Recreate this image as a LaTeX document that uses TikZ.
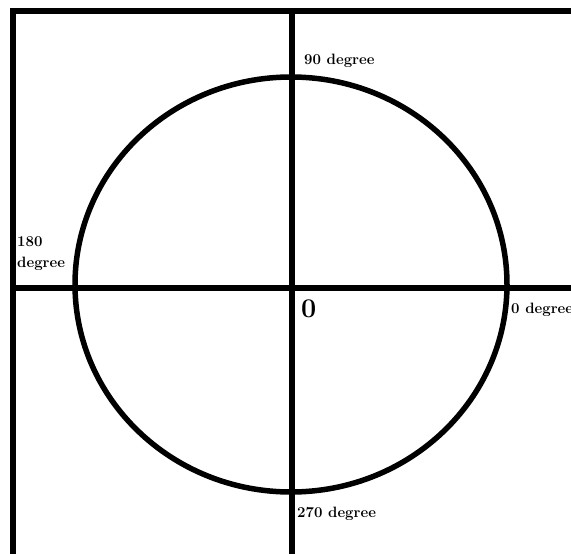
\documentclass[tikz,border=0pt]{standalone}
\usepackage{tikz}

\begin{document}
\begin{tikzpicture}[
    x=1pt, y=-1pt,
    thick line/.style={line width=5.5pt},
    lbl/.style={font=\fontsize{15}{21}\selectfont\bfseries, inner sep=0pt},
    origin lbl/.style={font=\fontsize{27}{30}\selectfont\bfseries, inner sep=0pt},
]
    \useasboundingbox (0, 0) rectangle (571, 554);

    %% outer frame (only left and top edges visible)
    \draw[thick line, line join=miter] (13, 554) -- (13, 11) -- (571, 11);

    %% axes
    \coordinate (top) at (292, 11);
    \coordinate (bottom) at (292, 554);
    \coordinate (left) at (13, 288);
    \coordinate (right) at (571, 288);
    \draw[thick line] (top) -- (bottom);
    \draw[thick line] (left) -- (right);

    %% the circle
    \coordinate (centre) at (291, 284.5);
    \draw[thick line] (centre) ellipse [x radius=216, y radius=207.5];

    %% labels
    \node[lbl, anchor=west] (deg90) at (304, 61) {90 degree};
    \node[lbl, anchor=west, align=left] (deg180) at (17, 254) {180\\degree};
    \node[lbl, anchor=west] (deg0) at (511, 310) {0 degree};
    \node[lbl, anchor=west] (deg270) at (297, 514) {270 degree};
    \node[origin lbl, anchor=north west] (zero) at (301, 300) {0};
\end{tikzpicture}
\end{document}
